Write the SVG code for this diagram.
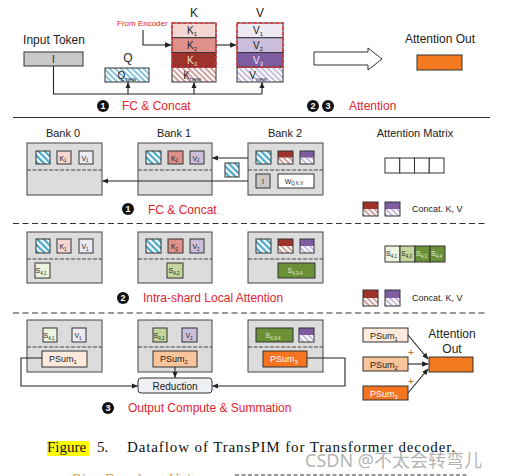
<svg xmlns="http://www.w3.org/2000/svg" width="512" height="476" viewBox="0 0 512 476">
<style>
text{font-family:"Liberation Sans",Arial,sans-serif;fill:#222}
.t12{font-size:12px}
.t11{font-size:11px}
.t10{font-size:10px}
.t9{font-size:9px}
.t7{font-size:7px}
.red{fill:#e5232b}
.mid{text-anchor:middle}
.wt{fill:#fff}
.box{stroke:#333;stroke-width:1}
.bank{fill:#dcdcdc;stroke:#444;stroke-width:1}
.div{stroke:#444;stroke-width:1;stroke-dasharray:4,1.5}
.conn{fill:none;stroke:#222;stroke-width:1.1}
.sep{stroke:#333;stroke-width:1.2;stroke-dasharray:6,3.5}
.circ{fill:#111}
.cn{font-size:9px;fill:#fff;text-anchor:middle;font-weight:bold}
</style>
<defs>
<pattern id="pq" width="4" height="4" patternUnits="userSpaceOnUse" patternTransform="rotate(-45)"><rect width="4" height="4" fill="#fff"/><line x1="1" y1="0" x2="1" y2="4" stroke="#3a9cc0" stroke-width="1.2"/></pattern>
<pattern id="pb" width="4.5" height="4.5" patternUnits="userSpaceOnUse" patternTransform="rotate(-45)"><rect width="4.5" height="4.5" fill="#fff"/><line x1="1.2" y1="0" x2="1.2" y2="4.5" stroke="#44a6c6" stroke-width="2.2"/></pattern>
<pattern id="pk" width="4" height="4" patternUnits="userSpaceOnUse" patternTransform="rotate(-45)"><rect width="4" height="4" fill="#fff"/><line x1="1" y1="0" x2="1" y2="4" stroke="#a8564c" stroke-width="1.1"/></pattern>
<pattern id="pv" width="4" height="4" patternUnits="userSpaceOnUse" patternTransform="rotate(-45)"><rect width="4" height="4" fill="#fff"/><line x1="1" y1="0" x2="1" y2="4" stroke="#9a88c6" stroke-width="1.1"/></pattern>
<marker id="ar" viewBox="0 0 10 10" refX="9" refY="5" markerWidth="6" markerHeight="6" orient="auto"><path d="M0,1 L10,5 L0,9 z" fill="#222"/></marker>
</defs>

<!-- ===== Top section ===== -->
<g id="input-token">
<text class="t12 mid" x="54" y="44">Input Token</text>
<rect class="box" x="24" y="52" width="59" height="14" fill="#c8c8c8"/>
<text class="t10 mid" x="53.5" y="63">I</text>
</g>
<g id="q">
<text class="t12 mid" x="128" y="62">Q</text>
<rect class="box" x="105" y="68" width="44" height="14" fill="url(#pq)"/>
<text class="t10 mid" x="127" y="79">Q<tspan font-size="6" dy="2">new</tspan></text>
</g>
<g id="k-stack">
<text class="t12 mid" x="194" y="17">K</text>
<rect class="box" x="172" y="23" width="44" height="14.75" fill="#f4d6d2"/>
<rect class="box" x="172" y="37.75" width="44" height="14.75" fill="#df9088"/>
<rect class="box" x="172" y="52.5" width="44" height="14.75" fill="#a0322c"/>
<rect class="box" x="172" y="67.25" width="44" height="14.75" fill="url(#pk)"/>
<rect x="172" y="23" width="44" height="44.25" fill="none" stroke="#e8333b" stroke-width="1.6" stroke-dasharray="3.5,2"/>
<text class="t10 mid" x="192" y="34">K<tspan font-size="6" dy="2">1</tspan></text>
<text class="t10 mid" x="192" y="48.5">K<tspan font-size="6" dy="2">2</tspan></text>
<text class="t10 mid" x="192" y="63.5" style="fill:#f4dcd8">K<tspan font-size="6" dy="2">3</tspan></text>
<text class="t10 mid" x="192" y="78.5">K<tspan font-size="6" dy="2">new</tspan></text>
</g>
<g id="v-stack">
<text class="t12 mid" x="260" y="17">V</text>
<rect class="box" x="237" y="23" width="46" height="14.75" fill="#eeeaf3"/>
<rect class="box" x="237" y="37.75" width="46" height="14.75" fill="#cbbfdb"/>
<rect class="box" x="237" y="52.5" width="46" height="14.75" fill="#7d5d9f"/>
<rect class="box" x="237" y="67.25" width="46" height="14.75" fill="url(#pv)"/>
<rect x="237" y="23" width="46" height="44.25" fill="none" stroke="#e8333b" stroke-width="1.6" stroke-dasharray="3.5,2"/>
<text class="t10 mid" x="258" y="34">V<tspan font-size="6" dy="2">1</tspan></text>
<text class="t10 mid" x="258" y="48.5">V<tspan font-size="6" dy="2">2</tspan></text>
<text class="t10 mid" x="258" y="63.5" style="fill:#ece6f4">V<tspan font-size="6" dy="2">3</tspan></text>
<text class="t10 mid" x="258" y="78.5">V<tspan font-size="6" dy="2">new</tspan></text>
</g>
<g id="from-encoder">
<text x="117" y="26" style="font-size:8px;fill:#e5232b">From Encoder</text>
</g>
<g id="attention-out-top">
<polygon points="314,52 368,52 368,48 382,59 368,70 368,65 314,65" fill="#fff" stroke="#333" stroke-width="1"/>
<text class="t12 mid" x="440" y="43">Attention Out</text>
<rect class="box" x="417" y="55" width="45" height="15" fill="#f47a20"/>
</g>
<g id="step-top">
<circle class="circ" cx="103" cy="106" r="6"/><text class="cn" x="103" y="109.3">1</text>
<text class="t12 red" x="122" y="110">FC &amp; Concat</text>
<circle class="circ" cx="313" cy="106" r="6"/><text class="cn" x="313" y="109.3">2</text>
<circle class="circ" cx="328" cy="106" r="6"/><text class="cn" x="328" y="109.3">3</text>
<text class="t12 red" x="349" y="110">Attention</text>
</g>

<!-- ===== Section 1 ===== -->
<g id="bank0-s1">
<text class="t11 mid" x="63" y="137">Bank 0</text>
<rect class="bank" x="27" y="143" width="75" height="52"/>
<line class="div" x1="27" y1="170" x2="102" y2="170"/>
<rect class="box" x="36" y="151" width="14" height="13" fill="url(#pb)"/>
<rect class="box" x="57" y="151" width="14" height="13" fill="#f4d6d2"/>
<text class="t7 mid" x="63" y="160.5">K<tspan font-size="4.5" dy="1.5">1</tspan></text>
<rect class="box" x="79" y="151" width="14" height="13" fill="#eeeaf3"/>
<text class="t7 mid" x="85" y="160.5">V<tspan font-size="4.5" dy="1.5">1</tspan></text>
</g>
<g id="bank1-s1">
<text class="t11 mid" x="174" y="137">Bank 1</text>
<rect class="bank" x="138" y="143" width="74" height="52"/>
<line class="div" x1="138" y1="170" x2="212" y2="170"/>
<rect class="box" x="146" y="151" width="15" height="13" fill="url(#pb)"/>
<rect class="box" x="168" y="151" width="15" height="13" fill="#df9088"/>
<text class="t7 mid" x="174.5" y="160.5">K<tspan font-size="4.5" dy="1.5">2</tspan></text>
<rect class="box" x="190" y="151" width="14" height="13" fill="#cbbfdb"/>
<text class="t7 mid" x="196" y="160.5">V<tspan font-size="4.5" dy="1.5">2</tspan></text>
</g>
<g id="bank2-s1">
<text class="t11 mid" x="285" y="137">Bank 2</text>
<rect class="bank" x="248" y="143" width="75" height="52"/>
<line class="div" x1="248" y1="170" x2="323" y2="170"/>
<rect class="box" x="256" y="151" width="15" height="13" fill="url(#pb)"/>
<rect x="278" y="157.5" width="15" height="6.5" fill="url(#pk)"/>
<rect x="278" y="151" width="15" height="6.5" fill="#a0322c"/>
<rect class="box" x="278" y="151" width="15" height="13" fill="none"/>
<rect x="300" y="157.5" width="14" height="6.5" fill="url(#pv)"/>
<rect x="300" y="151" width="14" height="6.5" fill="#7d5d9f"/>
<rect class="box" x="300" y="151" width="14" height="13" fill="none"/>
<rect class="box" x="256" y="174" width="14" height="14" fill="#c8c8c8"/>
<text class="t7 mid" x="263" y="183.5">I</text>
<rect class="box" x="278" y="174" width="36" height="14" fill="#fff"/>
<text class="t7 mid" x="294" y="183.5">W<tspan font-size="4.5" dy="1.5">Q,K,V</tspan></text>
</g>
<g id="broadcast-q">
<rect class="box" x="225" y="163" width="14" height="14" fill="url(#pb)"/>
</g>
<g id="attention-matrix">
<text class="t11 mid" x="415" y="137">Attention Matrix</text>
<rect class="box" x="385" y="158" width="14.75" height="15" fill="#fff" stroke-width="1.2"/>
<rect class="box" x="399.75" y="158" width="14.75" height="15" fill="#fff" stroke-width="1.2"/>
<rect class="box" x="414.5" y="158" width="14.75" height="15" fill="#fff" stroke-width="1.2"/>
<rect class="box" x="429.25" y="158" width="14.75" height="15" fill="#fff" stroke-width="1.2"/>
</g>
<g id="legend-s1">
<rect x="363" y="209" width="15" height="7" fill="url(#pk)"/>
<rect x="363" y="202" width="15" height="7" fill="#a0322c"/>
<rect class="box" x="363" y="202" width="15" height="14" fill="none"/>
<rect x="385" y="209" width="15" height="7" fill="url(#pv)"/>
<rect x="385" y="202" width="15" height="7" fill="#7d5d9f"/>
<rect class="box" x="385" y="202" width="15" height="14" fill="none"/>
<text class="t9" x="412" y="212">Concat. K, V</text>
</g>
<g id="step1">
<circle class="circ" cx="128" cy="209" r="6"/><text class="cn" x="128" y="212.3">1</text>
<text class="t12 red" x="148" y="214">FC &amp; Concat</text>
</g>

<!-- ===== Section 2 ===== -->
<g id="bank0-s2">
<rect class="bank" x="27" y="232" width="75" height="51"/>
<line class="div" x1="27" y1="259" x2="102" y2="259"/>
<rect class="box" x="36" y="239" width="14" height="14" fill="url(#pb)"/>
<rect class="box" x="57" y="239" width="14" height="14" fill="#f4d6d2"/>
<text class="t7 mid" x="63" y="249">K<tspan font-size="4.5" dy="1.5">1</tspan></text>
<rect class="box" x="79" y="239" width="14" height="14" fill="#eeeaf3"/>
<text class="t7 mid" x="85" y="249">V<tspan font-size="4.5" dy="1.5">1</tspan></text>
<rect class="box" x="35" y="263" width="15" height="15" fill="#eef3df"/>
<text class="t7 mid" x="41" y="273">S<tspan font-size="4.5" dy="1.5">4,1</tspan></text>
</g>
<g id="bank1-s2">
<rect class="bank" x="138" y="232" width="74" height="51"/>
<line class="div" x1="138" y1="259" x2="212" y2="259"/>
<rect class="box" x="146" y="239" width="15" height="14" fill="url(#pb)"/>
<rect class="box" x="168" y="239" width="15" height="14" fill="#df9088"/>
<text class="t7 mid" x="174.5" y="249">K<tspan font-size="4.5" dy="1.5">2</tspan></text>
<rect class="box" x="190" y="239" width="14" height="14" fill="#cbbfdb"/>
<text class="t7 mid" x="196" y="249">V<tspan font-size="4.5" dy="1.5">2</tspan></text>
<rect class="box" x="167" y="263" width="16" height="15" fill="#c3d69b"/>
<text class="t7 mid" x="174" y="273">S<tspan font-size="4.5" dy="1.5">4,2</tspan></text>
</g>
<g id="bank2-s2">
<rect class="bank" x="248" y="232" width="75" height="51"/>
<line class="div" x1="248" y1="259" x2="323" y2="259"/>
<rect class="box" x="256" y="239" width="15" height="14" fill="url(#pb)"/>
<rect x="278" y="246" width="15" height="7" fill="url(#pk)"/>
<rect x="278" y="239" width="15" height="7" fill="#a0322c"/>
<rect class="box" x="278" y="239" width="15" height="14" fill="none"/>
<rect x="300" y="246" width="14" height="7" fill="url(#pv)"/>
<rect x="300" y="239" width="14" height="7" fill="#7d5d9f"/>
<rect class="box" x="300" y="239" width="14" height="14" fill="none"/>
<rect class="box" x="278" y="263" width="37" height="15" fill="#6b9138"/>
<text class="t7 mid" x="295" y="273" style="fill:#e6efd8">S<tspan font-size="4.5" dy="1.5">4,3-4</tspan></text>
</g>
<g id="score-vector">
<rect class="box" x="385" y="246" width="15" height="16" fill="#eef3df"/>
<rect class="box" x="400" y="246" width="15" height="16" fill="#c3d69b"/>
<rect class="box" x="415" y="246" width="15" height="16" fill="#6b9138"/>
<rect class="box" x="430" y="246" width="15" height="16" fill="#6b9138"/>
<text class="t7" x="386" y="256">S<tspan font-size="4.5" dy="1.5">4,1</tspan></text>
<text class="t7" x="401" y="256">S<tspan font-size="4.5" dy="1.5">4,2</tspan></text>
<text class="t7" x="416" y="256" style="fill:#e6efd8">S<tspan font-size="4.5" dy="1.5">4,3</tspan></text>
<text class="t7" x="431" y="256" style="fill:#e6efd8">S<tspan font-size="4.5" dy="1.5">4,4</tspan></text>
</g>
<g id="legend-s2">
<rect x="363" y="298" width="15" height="8" fill="url(#pk)"/>
<rect x="363" y="290" width="15" height="8" fill="#a0322c"/>
<rect class="box" x="363" y="290" width="15" height="16" fill="none"/>
<rect x="385" y="298" width="15" height="8" fill="url(#pv)"/>
<rect x="385" y="290" width="15" height="8" fill="#7d5d9f"/>
<rect class="box" x="385" y="290" width="15" height="16" fill="none"/>
<text class="t9" x="412" y="301">Concat. K, V</text>
</g>
<g id="step2">
<circle class="circ" cx="123" cy="298" r="6"/><text class="cn" x="123" y="301.3">2</text>
<text class="t12 red" x="143" y="302">Intra-shard Local Attention</text>
</g>

<!-- ===== Section 3 ===== -->
<g id="bank0-s3">
<rect class="bank" x="27" y="320" width="75" height="52"/>
<line class="div" x1="27" y1="347" x2="102" y2="347"/>
<rect class="box" x="43" y="328" width="14" height="14" fill="#eef3df"/>
<text class="t7 mid" x="49" y="338">S<tspan font-size="4.5" dy="1.5">4,1</tspan></text>
<rect class="box" x="72" y="328" width="14" height="14" fill="#eeeaf3"/>
<text class="t7 mid" x="78" y="338">V<tspan font-size="4.5" dy="1.5">1</tspan></text>
<rect class="box" x="42" y="351" width="45" height="16" fill="#fdeadd"/>
<text class="t9 mid" x="63" y="362">PSum<tspan font-size="6" dy="2">1</tspan></text>
</g>
<g id="bank1-s3">
<rect class="bank" x="138" y="320" width="74" height="52"/>
<line class="div" x1="138" y1="347" x2="212" y2="347"/>
<rect class="box" x="153" y="328" width="14" height="14" fill="#c3d69b"/>
<text class="t7 mid" x="159" y="338">S<tspan font-size="4.5" dy="1.5">4,2</tspan></text>
<rect class="box" x="182" y="328" width="15" height="14" fill="#cbbfdb"/>
<text class="t7 mid" x="189" y="338">V<tspan font-size="4.5" dy="1.5">2</tspan></text>
<rect class="box" x="153" y="351" width="44" height="16" fill="#f9c39b"/>
<text class="t9 mid" x="174" y="362">PSum<tspan font-size="6" dy="2">2</tspan></text>
</g>
<g id="bank2-s3">
<rect class="bank" x="248" y="320" width="75" height="52"/>
<line class="div" x1="248" y1="347" x2="323" y2="347"/>
<rect class="box" x="256" y="328" width="37" height="14" fill="#6b9138"/>
<text class="t7 mid" x="273" y="338" style="fill:#e6efd8">S<tspan font-size="4.5" dy="1.5">4,3-4</tspan></text>
<rect x="299" y="335" width="15" height="7" fill="url(#pv)"/>
<rect x="299" y="328" width="15" height="7" fill="#7d5d9f"/>
<rect class="box" x="299" y="328" width="15" height="14" fill="none"/>
<rect class="box" x="263" y="351" width="44" height="16" fill="#f4741f"/>
<text class="t9 mid wt" x="284" y="362">PSum<tspan font-size="6" dy="2">3</tspan></text>
</g>
<g id="reduction">
<rect x="138" y="378" width="74" height="15" rx="3" fill="#eef0f3" stroke="#333" stroke-width="1"/>
<text class="t10 mid" x="175" y="389.5">Reduction</text>
</g>
<g id="step3">
<circle class="circ" cx="108" cy="408" r="6"/><text class="cn" x="108" y="411.3">3</text>
<text class="t12 red" x="128" y="412">Output Compute &amp; Summation</text>
</g>
<g id="psum-right">
<rect class="box" x="363" y="328" width="45" height="14" fill="#fdeadd"/>
<text class="t9 mid" x="384" y="338.5">PSum<tspan font-size="6" dy="2">1</tspan></text>
<rect class="box" x="363" y="357" width="45" height="14" fill="#f9c39b"/>
<text class="t9 mid" x="384" y="367.5">PSum<tspan font-size="6" dy="2">2</tspan></text>
<rect class="box" x="363" y="386" width="45" height="14" fill="#f4741f"/>
<text class="t9 mid wt" x="384" y="396.5">PSum<tspan font-size="6" dy="2">3</tspan></text>
<text class="t10 mid" x="411" y="356" style="fill:#b06a3a">+</text>
<text class="t10 mid" x="411" y="385" style="fill:#b06a3a">+</text>
</g>
<g id="attention-out-final">
<text class="t12 mid" x="452" y="338">Attention</text>
<text class="t12 mid" x="452" y="353">Out</text>
<rect class="box" x="429" y="357" width="44" height="15" fill="#f47a20"/>
</g>

<!-- ===== Connectors ===== -->
<g id="connectors">
<path class="conn" d="M143,30 V45 H171" marker-end="url(#ar)"/>
<path class="conn" d="M216,45 H236" marker-end="url(#ar)"/>
<path class="conn" d="M53.5,66 V94 H262"/>
<path class="conn" d="M128,94 V82.5" marker-end="url(#ar)"/>
<path class="conn" d="M194,94 V82.5" marker-end="url(#ar)"/>
<path class="conn" d="M262,94 V82.5" marker-end="url(#ar)"/>
<path class="conn" d="M248,158 H212.5" marker-end="url(#ar)"/>
<path class="conn" d="M248,181 H102.5" marker-end="url(#ar)"/>
<path class="conn" d="M42,358 H21 V386 H137.5" marker-end="url(#ar)"/>
<path class="conn" d="M175,367 V377.5" marker-end="url(#ar)"/>
<path class="conn" d="M307,358 H345 V386 H212.5" marker-end="url(#ar)"/>
<path class="conn" d="M408,335 L428,359" marker-end="url(#ar)"/>
<path class="conn" d="M408,364 H428" marker-end="url(#ar)"/>
<path class="conn" d="M408,393 L428,369" marker-end="url(#ar)"/>
</g>

<!-- ===== Separators ===== -->
<g id="separators">
<line x1="13" y1="117.5" x2="490" y2="117.5" stroke="#333" stroke-width="1.2"/>
<line class="sep" x1="13" y1="223.5" x2="486" y2="223.5"/>
<line class="sep" x1="13" y1="313" x2="486" y2="313"/>
</g>

<!-- ===== Caption ===== -->
<g id="caption">
<rect x="47" y="441" width="42" height="15" fill="#ffff00"/>
<text x="47" y="452" style="font-family:'Liberation Serif','Times New Roman',serif;font-size:15px;fill:#111">Figure</text>
<text x="97" y="452" style="font-family:'Liberation Serif','Times New Roman',serif;font-size:15px;fill:#111">5.</text>
<text x="127" y="452" textLength="328" lengthAdjust="spacing" style="font-family:'Liberation Serif','Times New Roman',serif;font-size:15px;fill:#111">Dataflow of TransPIM for Transformer decoder.</text>
<text x="72" y="484" style="font-family:'Liberation Serif','Times New Roman',serif;font-size:15px;fill:#d9a24e">Ring Broadcast Unit</text>
<line x1="235" y1="475" x2="467" y2="475" stroke="#333" stroke-width="1.2" stroke-dasharray="4,2.5"/>
<text x="305" y="467" style="font-family:'Noto Sans','Noto Sans CJK SC',sans-serif;font-size:18px;fill:#9a9a9a;fill-opacity:0.75">CSDN @不太会转弯儿</text>
</g>
</svg>
